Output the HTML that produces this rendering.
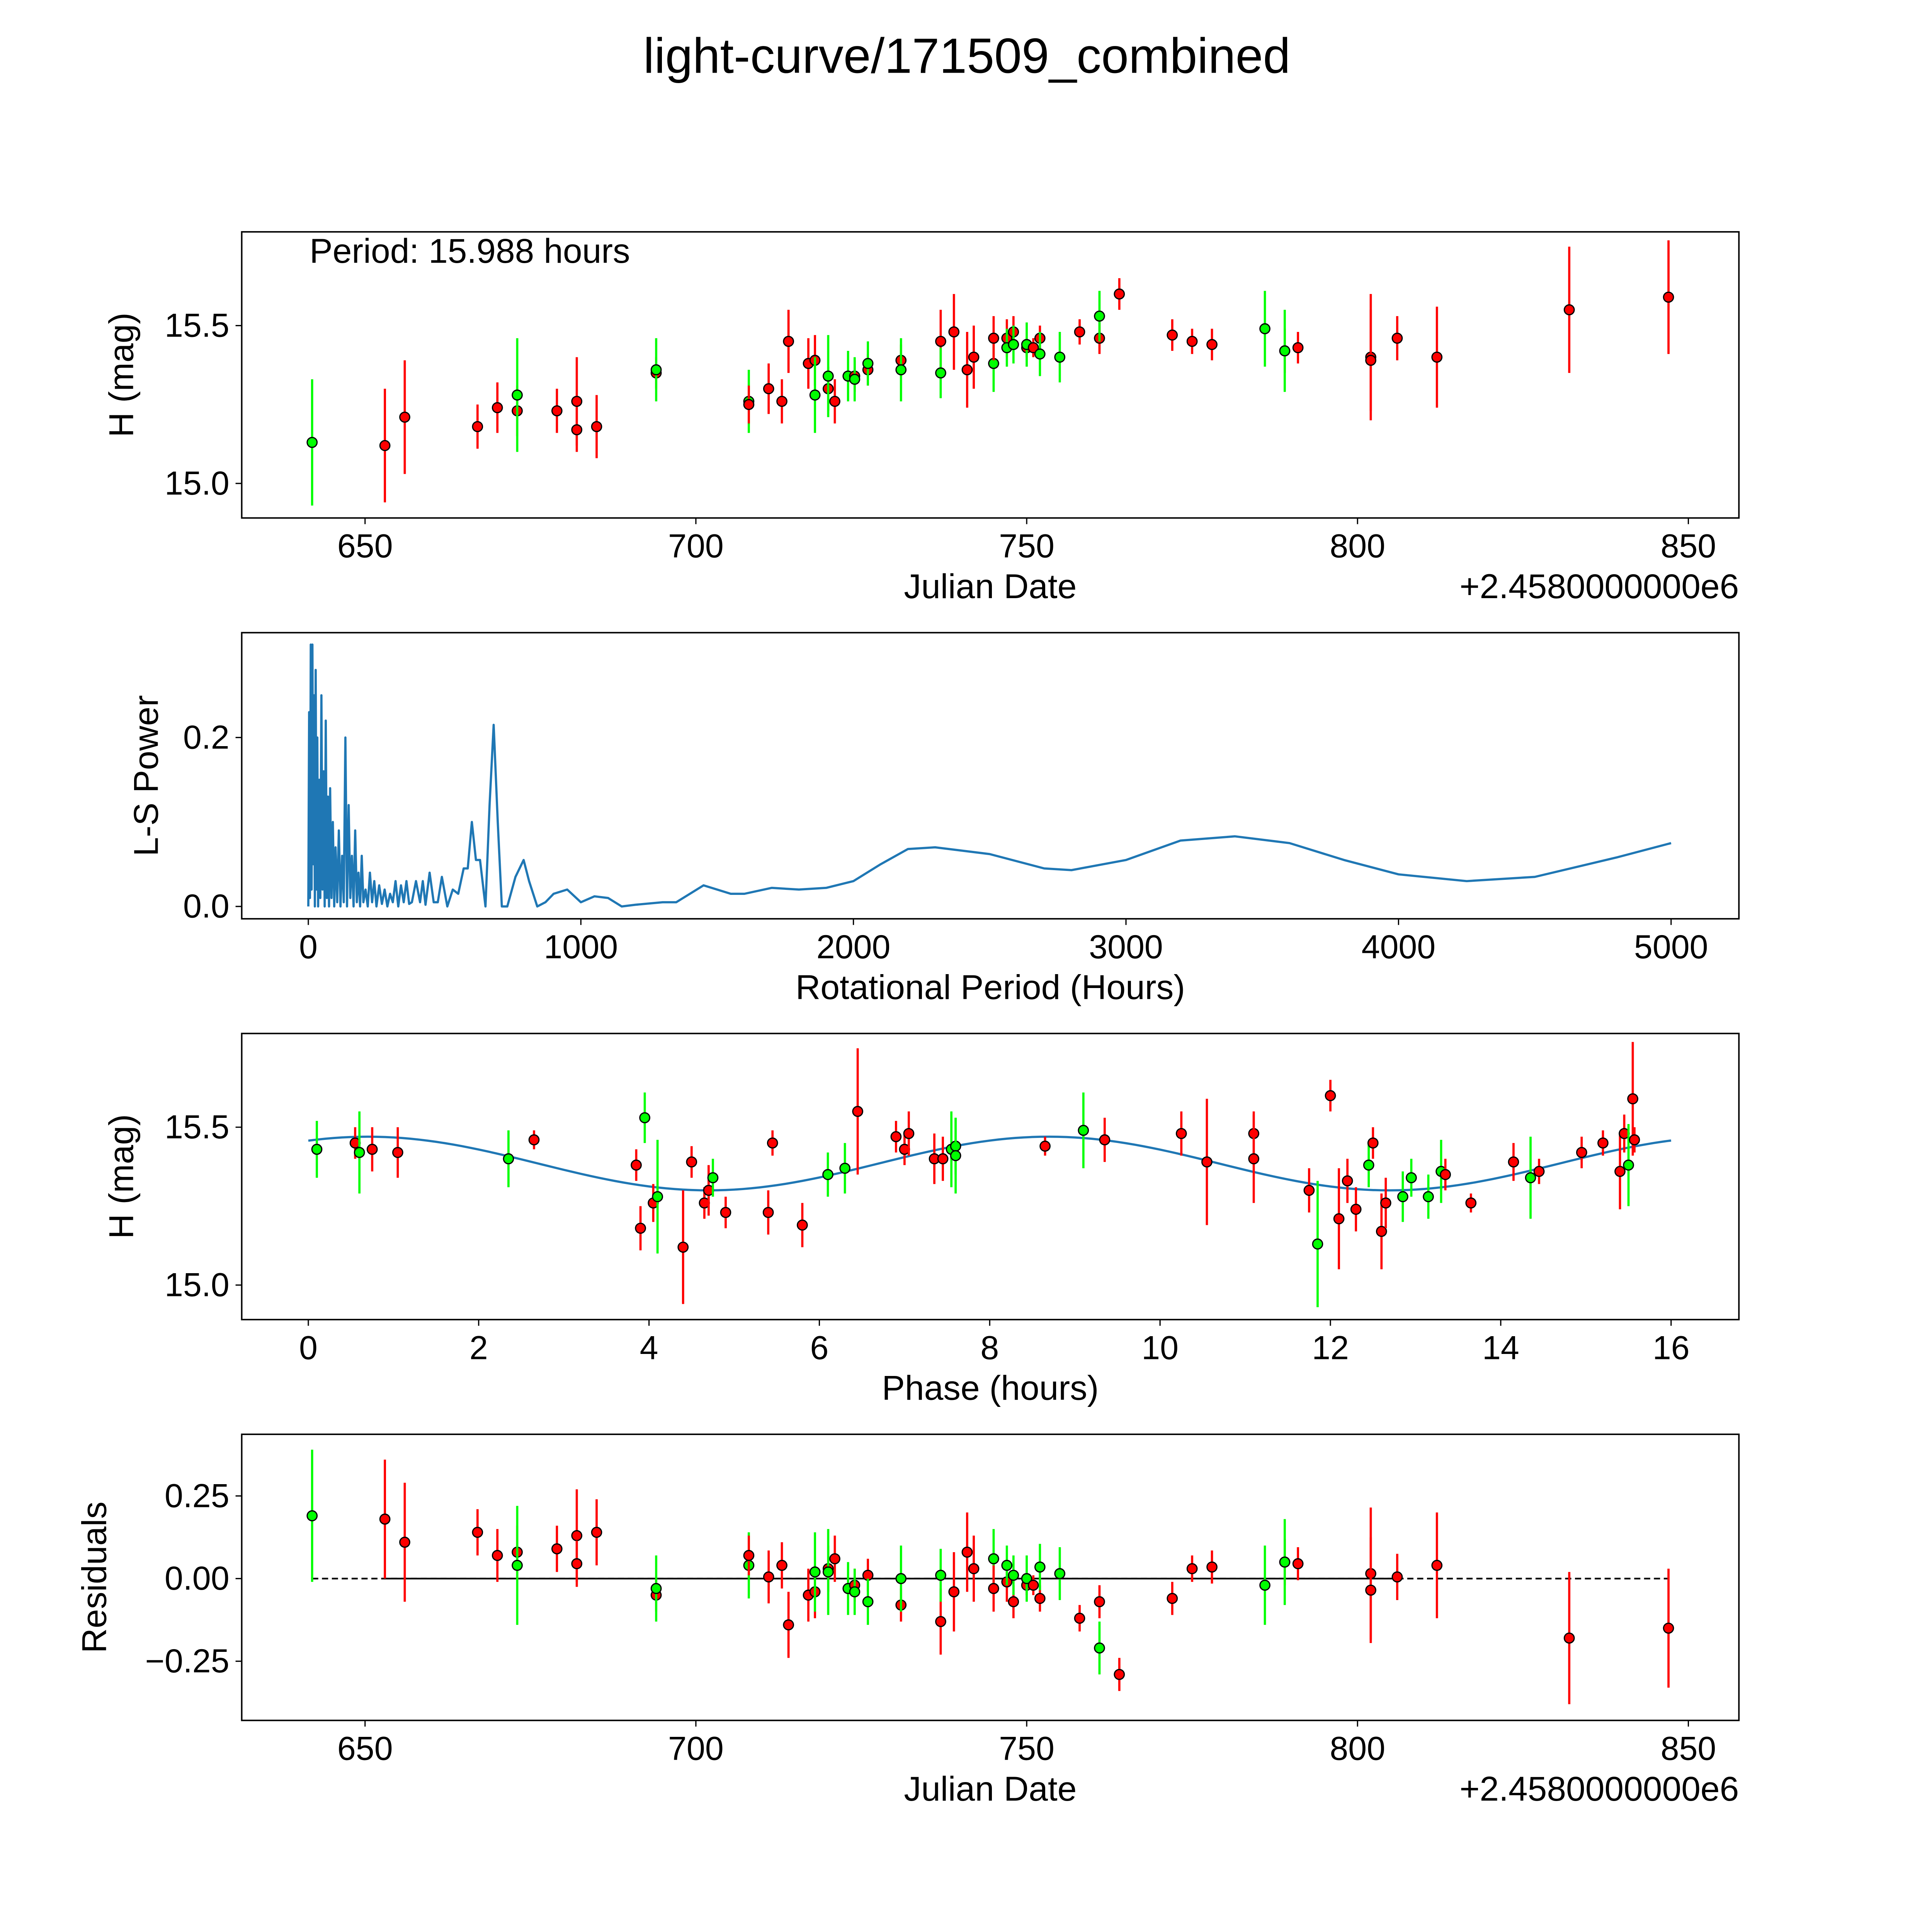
<!DOCTYPE html>
<html><head><meta charset="utf-8"><style>
html,body{margin:0;padding:0;background:#fff;width:5400px;height:5400px;overflow:hidden}
svg{display:block;position:absolute;left:0;top:0;width:5400px;height:5400px}
text{font-family:"Liberation Sans","DejaVu Sans",sans-serif;fill:#000}
</style></head><body>
<svg id="fig" width="5400" height="5400" xmlns="http://www.w3.org/2000/svg">
<rect width="5400" height="5400" fill="#fff"/>
<g id="root" transform="scale(3.1917)">
<text x="784" y="59" font-size="40" text-anchor="middle">light-curve/171509_combined</text>
<g id="g1"></g>
<g id="g2"></g>
<g id="g3"></g>
<g id="g4"></g>
</g>
</svg>
<script>
// ---- light curve data ----
const dates = [642,653,656,667,670,673,673,679,682,682,685,694,694,708,708,711,713,714,717,718,718,720,720,721,723,724,724,726,726,731,731,737,737,739,745,741,742,745,747,747,748,748,750,750,751,752,752,755,758,761,761,764,772,775,778,786,789,789,791,802,802,806,812,832,847];
const mags = [15.13,15.12,15.21,15.18,15.24,15.23,15.28,15.23,15.26,15.17,15.18,15.35,15.36,15.26,15.25,15.30,15.26,15.45,15.38,15.39,15.28,15.30,15.34,15.26,15.34,15.34,15.33,15.36,15.38,15.39,15.36,15.45,15.35,15.48,15.38,15.36,15.40,15.46,15.46,15.43,15.48,15.44,15.43,15.44,15.43,15.46,15.41,15.40,15.48,15.46,15.53,15.60,15.47,15.45,15.44,15.49,15.42,15.42,15.43,15.40,15.39,15.46,15.40,15.55,15.59];
const errs = [0.2,0.18,0.18,0.07,0.08,0.08,0.18,0.07,0.14,0.07,0.1,0.05,0.1,0.1,0.06,0.08,0.07,0.1,0.08,0.08,0.12,0.07,0.13,0.07,0.08,0.05,0.07,0.05,0.07,0.05,0.1,0.1,0.08,0.12,0.09,0.12,0.1,0.07,0.06,0.06,0.05,0.06,0.03,0.07,0.03,0.04,0.07,0.08,0.04,0.05,0.08,0.05,0.05,0.04,0.05,0.12,0.07,0.13,0.05,0.2,0.16,0.07,0.16,0.2,0.18];
const bands = ["g","r","r","r","r","r","g","r","r","r","r","r","g","g","r","r","r","r","r","r","g","r","g","r","g","r","g","r","g","r","g","r","g","r","g","r","r","r","r","g","r","g","r","g","r","r","g","g","r","r","g","r","r","r","r","g","r","g","r","r","r","r","r","r","r"];
const resid = [0.19,0.18,0.11,0.14,0.07,0.08,0.04,0.09,0.13,0.045,0.14,-0.05,-0.03,0.04,0.07,0.005,0.04,-0.14,-0.05,-0.04,0.02,0.03,0.02,0.06,-0.03,-0.02,-0.04,0.01,-0.07,-0.08,0.0,-0.13,0.01,-0.04,0.06,0.08,0.03,-0.03,-0.01,0.04,-0.07,0.01,-0.02,0.0,-0.02,-0.06,0.035,0.015,-0.12,-0.07,-0.21,-0.29,-0.06,0.03,0.035,-0.02,0.05,0.05,0.045,0.015,-0.035,0.005,0.04,-0.18,-0.15];
// ---- phase-folded data ----
const phases = [0.1,0.55,0.6,0.75,1.05,2.35,2.65,3.85,3.9,3.95,4.05,4.1,4.4,4.5,4.65,4.7,4.75,4.9,5.4,5.45,5.8,6.1,6.3,6.45,6.9,7.0,7.05,7.35,7.45,7.55,7.6,7.6,8.65,9.1,9.35,10.25,10.55,11.1,11.1,11.75,11.85,12.0,12.1,12.2,12.3,12.45,12.5,12.6,12.65,12.85,12.95,13.15,13.3,13.35,13.65,14.15,14.35,14.45,14.95,15.2,15.4,15.45,15.5,15.55,15.57];
const pmags = [15.43,15.45,15.42,15.43,15.42,15.40,15.46,15.38,15.18,15.53,15.26,15.28,15.12,15.39,15.26,15.30,15.34,15.23,15.23,15.45,15.19,15.35,15.37,15.55,15.47,15.43,15.48,15.40,15.40,15.43,15.44,15.41,15.44,15.49,15.46,15.48,15.39,15.48,15.40,15.30,15.13,15.60,15.21,15.33,15.24,15.38,15.45,15.17,15.26,15.28,15.34,15.28,15.36,15.35,15.26,15.39,15.34,15.36,15.42,15.45,15.36,15.48,15.38,15.59,15.46];
const perrs = [0.09,0.05,0.13,0.07,0.08,0.09,0.03,0.05,0.07,0.08,0.06,0.18,0.18,0.05,0.05,0.08,0.06,0.05,0.07,0.04,0.07,0.07,0.08,0.2,0.05,0.05,0.07,0.08,0.07,0.12,0.09,0.12,0.03,0.12,0.07,0.07,0.2,0.07,0.14,0.07,0.2,0.05,0.16,0.07,0.07,0.07,0.05,0.12,0.08,0.08,0.06,0.07,0.1,0.05,0.03,0.06,0.13,0.04,0.05,0.04,0.12,0.06,0.13,0.18,0.04];
const pbands = ["g","r","g","r","r","g","r","r","r","g","r","g","r","r","r","r","g","r","r","r","r","g","g","r","r","r","r","r","r","g","g","g","r","g","r","r","r","r","r","r","g","r","r","r","r","g","r","r","r","g","g","g","g","r","r","r","g","r","r","r","r","r","g","r","r"];
const modelMean = 15.385, modelAmp = 0.085, modelPeak = 0.7, modelHalfPeriod = 7.994;
// ---- periodogram ----
const lsPeriods = [0,3,6,9,12,15,18,21,24,27,30,33,36,40,44,48,52,56,60,64,68,72,76,80,85,90,95,100,106,112,118,124,130,136,142,148,154,160,166,172,178,184,190,196,202,210,218,226,234,242,250,260,270,280,290,300,310,320,330,340,350,360,370,380,395,410,420,430,445,460,475,490,510,530,550,570,585,600,615,630,650,665,680,695,710,730,760,790,810,840,870,900,950,1000,1050,1100,1150,1200,1300,1350,1450,1550,1600,1700,1800,1900,2000,2100,2200,2300,2500,2700,2800,3000,3200,3400,3600,3800,4000,4250,4500,4800,5000];
const lsPower = [0,0.23,0.01,0.31,0.02,0.31,0.05,0.25,0.0,0.28,0.02,0.2,0.0,0.15,0.01,0.25,0.02,0.16,0.0,0.22,0.01,0.13,0.0,0.14,0.01,0.1,0.0,0.07,0.005,0.09,0.0,0.06,0.005,0.2,0.0,0.12,0.01,0.06,0.0,0.09,0.005,0.04,0.0,0.06,0.005,0.02,0.0,0.04,0.005,0.03,0.0,0.025,0.003,0.02,0.0,0.015,0.005,0.03,0.0,0.025,0.005,0.03,0.003,0.005,0.03,0.005,0.03,0.002,0.04,0.005,0.005,0.035,0.0,0.02,0.015,0.045,0.045,0.1,0.055,0.055,0.0,0.12,0.215,0.1,0.0,0.0,0.035,0.055,0.03,0.0,0.005,0.015,0.02,0.005,0.012,0.01,0.0,0.002,0.005,0.005,0.025,0.015,0.015,0.022,0.02,0.022,0.03,0.05,0.068,0.07,0.062,0.045,0.043,0.055,0.078,0.083,0.075,0.055,0.038,0.03,0.035,0.058,0.075];

const NS='http://www.w3.org/2000/svg';
function el(parent, tag, attrs){const e=document.createElementNS(NS,tag);for(const k in attrs)e.setAttribute(k,attrs[k]);parent.appendChild(e);return e;}
function col(b){return b==='g'?'#00ff00':'#ff0000';}
function frame(g,x0,y0,x1,y1){
  const r=el(g,'rect',{x:x0,y:y0,width:x1-x0,height:y1-y0,fill:'none',stroke:'#000','stroke-width':1.2});
  
  
}
function xticks(g,vals,sx,yb,name){
  vals.forEach(v=>{
    const x=sx(v);
    el(g,'line',{x1:x,x2:x,y1:yb,y2:yb+5,stroke:'#000','stroke-width':1});
    const t=el(g,'text',{x:x,y:yb+32,'font-size':27,'text-anchor':'middle'});t.textContent=String(v);
    
    
  });
}
function yticks(g,vals,labels,sy,xl,name){
  vals.forEach((v,i)=>{
    const y=sy(v);
    el(g,'line',{x1:xl-5,x2:xl,y1:y,y2:y,stroke:'#000','stroke-width':1});
    const t=el(g,'text',{x:xl-10,y:y+9,'font-size':27,'text-anchor':'end'});t.textContent=labels[i];
    
    
  });
}
function label(g,txt,x,y,rot,name,anchor){
  const t=el(g,'text',{x:x,y:y,'font-size':28,'text-anchor':anchor||'middle'});
  if(rot)t.setAttribute('transform','rotate(-90 '+x+' '+y+')');
  t.textContent=txt;
  
  
}
function point(g,x,y,ylo,yhi,c,name){
  const l=el(g,'line',{x1:x,x2:x,y1:ylo,y2:yhi,stroke:c,'stroke-width':1.8});
  
  
  const p=el(g,'circle',{cx:x,cy:y,r:4,fill:c,stroke:'#000','stroke-width':1});
  
  
}
const L=196,R=1410;
const sxJD=v=>296+(v-650)*(1369-296)/200;

// Panel 1
(function(){
  const g=document.getElementById('g1'),T=188,B=420;
  const sy=v=>392-(v-15.0)*256;
  frame(g,L,T,R,B);
  for(let i=0;i<dates.length;i++)point(g,sxJD(dates[i]),sy(mags[i]),sy(mags[i]-errs[i]),sy(mags[i]+errs[i]),col(bands[i]),'light-curve');
  xticks(g,[650,700,750,800,850],sxJD,B,'x-axis-jd');
  yticks(g,[15.0,15.5],['15.0','15.5'],sy,L,'y-axis-mag');
  label(g,'Julian Date',803,485,false,'x-axis-title');
  label(g,'+2.4580000000e6',1410,485,false,'x-axis-offset','end');
  label(g,'H (mag)',108,304,true,'y-axis-title');
  label(g,'Period: 15.988 hours',251,213,false,'period-annotation','start');
})();

// Panel 2
(function(){
  const g=document.getElementById('g2'),T=513,B=745;
  const sx=v=>250+v*(1355-250)/5000, sy=v=>735-v*685;
  frame(g,L,T,R,B);
  let d='';
  for(let i=0;i<lsPeriods.length;i++)d+=(i?'L':'M')+sx(lsPeriods[i]).toFixed(2)+','+sy(lsPower[i]).toFixed(2);
  const p=el(g,'path',{d:d,fill:'none',stroke:'#1f77b4','stroke-width':1.8,'stroke-linejoin':'round'});
  
  
  xticks(g,[0,1000,2000,3000,4000,5000],sx,B,'x-axis-period');
  yticks(g,[0,0.2],['0.0','0.2'],sy,L,'y-axis-power');
  label(g,'Rotational Period (Hours)',803,810,false,'x-axis-title');
  label(g,'L-S Power',128,629,true,'y-axis-title');
})();

// Panel 3
(function(){
  const g=document.getElementById('g3'),T=838,B=1070;
  const sx=v=>250+v*(1355-250)/16, sy=v=>1042-(v-15.0)*256;
  frame(g,L,T,R,B);
  let d='';
  for(let i=0;i<=160;i++){const t=i/10;const m=modelMean+modelAmp*Math.cos(2*Math.PI*(t-modelPeak)/modelHalfPeriod);d+=(i?'L':'M')+sx(t).toFixed(2)+','+sy(m).toFixed(2);}
  const p=el(g,'path',{d:d,fill:'none',stroke:'#1f77b4','stroke-width':1.8});
  
  
  for(let i=0;i<phases.length;i++)point(g,sx(phases[i]),sy(pmags[i]),sy(pmags[i]-perrs[i]),sy(pmags[i]+perrs[i]),col(pbands[i]),'phase');
  xticks(g,[0,2,4,6,8,10,12,14,16],sx,B,'x-axis-phase');
  yticks(g,[15.0,15.5],['15.0','15.5'],sy,L,'y-axis-mag');
  label(g,'Phase (hours)',803,1135,false,'x-axis-title');
  label(g,'H (mag)',108,954,true,'y-axis-title');
})();

// Panel 4
(function(){
  const g=document.getElementById('g4'),T=1163,B=1395;
  const sy=v=>1280-v*268;
  frame(g,L,T,R,B);
  const d1=el(g,'line',{x1:sxJD(642),x2:sxJD(847),y1:sy(0),y2:sy(0),stroke:'#000','stroke-width':1.3,'stroke-dasharray':'5,3'});
  
  
  const d2=el(g,'line',{x1:sxJD(653),x2:sxJD(806),y1:sy(0),y2:sy(0),stroke:'#000','stroke-width':1.3});
  
  
  for(let i=0;i<dates.length;i++)point(g,sxJD(dates[i]),sy(resid[i]),sy(resid[i]-errs[i]),sy(resid[i]+errs[i]),col(bands[i]),'residual');
  xticks(g,[650,700,750,800,850],sxJD,B,'x-axis-jd');
  yticks(g,[-0.25,0,0.25],['\u22120.25','0.00','0.25'],sy,L,'y-axis-residual');
  label(g,'Julian Date',803,1460,false,'x-axis-title');
  label(g,'+2.4580000000e6',1410,1460,false,'x-axis-offset','end');
  label(g,'Residuals',86,1279,true,'y-axis-title');
})();
</script>
</body></html>
